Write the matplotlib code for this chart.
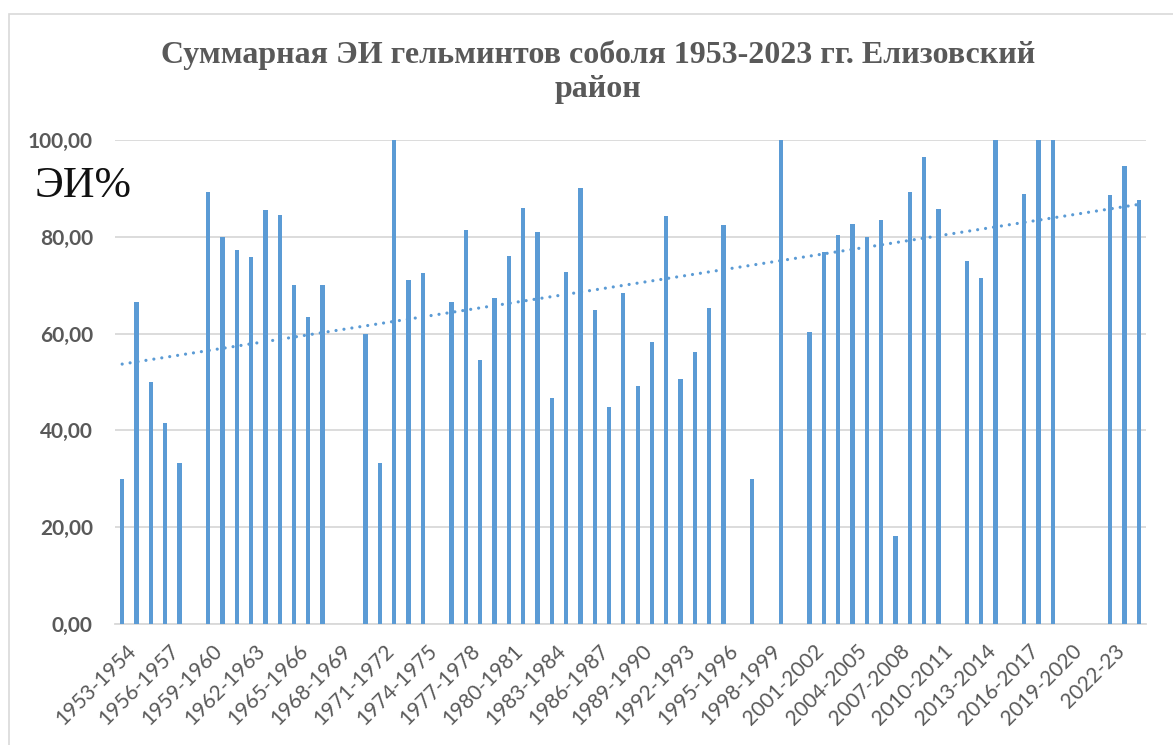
import numpy as np
import matplotlib
matplotlib.use("Agg")
import matplotlib.pyplot as plt
import matplotlib.transforms as mtransforms
from matplotlib.patches import Rectangle

# seasons 1953-1954 ... (one bar per season)
start_years = list(range(1953, 2025))
seasons = []
for y in start_years:
    if y < 2022:
        seasons.append("%d-%d" % (y, y + 1))
    else:
        seasons.append("%d-%02d" % (y, (y + 1) % 100))

# ЭИ % per season, None = no data
ei = [30.0, 66.6, 50.0, 41.5, 33.3, None, 89.3, 80.0, 77.3, 75.8,
      85.6, 84.6, 70.0, 63.4, 70.0, None, None, 60.0, 33.3, 100.0,
      71.1, 72.5, None, 66.6, 81.4, 54.5, 67.3, 76.0, 86.0, 80.9,
      46.6, 72.7, 90.0, 64.9, 44.9, 68.3, 49.2, 58.2, 84.2, 50.6,
      56.3, 65.2, 82.4, None, 30.0, None, 100.0, None, 60.3, 76.9,
      80.4, 82.6, 80.0, 83.4, 18.1, 89.3, 96.4, 85.7, None, 75.0,
      71.4, 100.0, None, 88.9, 100.0, 100.0, None, None, None, 88.6,
      94.6, 87.7]

# linear trend line as shown in the chart (first / last season)
trend_ends = [53.7, 86.7]

title1 = "Суммарная ЭИ гельминтов соболя 1953-2023 гг. Елизовский"
title2 = "район"

blue = "#5B9BD5"
grey_txt = "#595959"
grid_c = "#D9D9D9"

W, H = 1173, 745
fig = plt.figure(figsize=(W / 100, H / 100), dpi=100)
ax = fig.add_axes([115 / W, 1 - 624 / H, (1146 - 115) / W, (624 - 140) / H])

idx = np.array([i for i, v in enumerate(ei) if v is not None])
vals = np.array([v for v in ei if v is not None])

ax.bar(idx, vals, width=0.3, color=blue, zorder=3)

xt = [0, len(seasons) - 1]
ax.plot(xt, trend_ends, color=blue, lw=2.3, linestyle=(0, (0.01, 2.5)),
        dash_capstyle="round", zorder=4)

ax.set_xlim(-0.5, len(seasons) - 0.5)
ax.set_ylim(0, 100)
yt = np.arange(0, 101, 20)
ax.set_yticks(yt)
ax.set_yticklabels([("%.2f" % v).replace(".", ",") for v in yt],
                   fontsize=15, fontweight="bold", color=grey_txt, family="Lato")
ax.yaxis.grid(True, color=grid_c, lw=1.3, zorder=0)
ax.tick_params(axis="y", length=0, pad=16)

ax.set_xticks(range(0, len(seasons), 3))
ax.set_xticklabels(seasons[::3], rotation=45, ha="right", va="top",
                   rotation_mode="anchor", fontsize=15, color=grey_txt, family="Lato")
ax.tick_params(axis="x", length=0, pad=12)
off = mtransforms.ScaledTranslation(4 / 100, 0, fig.dpi_scale_trans)
for lab in ax.get_xticklabels():
    lab.set_transform(lab.get_transform() + off)

for s in ["left", "right", "top"]:
    ax.spines[s].set_visible(False)
ax.spines["bottom"].set_color(grid_c)
ax.spines["bottom"].set_linewidth(1.3)

fig.text(598 / W, 1 - 63 / H, title1, ha="center", va="baseline", fontsize=23,
         fontweight="bold", color=grey_txt, family="Liberation Serif")
fig.text(598 / W, 1 - 97 / H, title2, ha="center", va="baseline", fontsize=23,
         fontweight="bold", color=grey_txt, family="Liberation Serif")

fig.text(35 / W, 1 - 197 / H, "ЭИ%", ha="left", va="baseline", fontsize=31.5,
         color="#111111", family="Liberation Serif")

fig.patches.append(Rectangle((8.5 / W, -0.1), 1.2, 1 - 14 / H + 0.1,
                             transform=fig.transFigure, fill=False,
                             ec=grid_c, lw=1.2))

fig.savefig("out.png", dpi=100, facecolor="white")
